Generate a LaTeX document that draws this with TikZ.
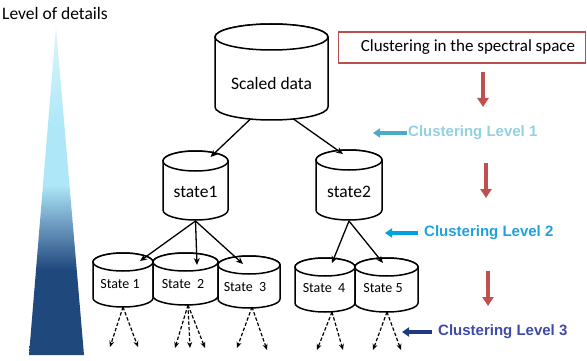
\documentclass[tikz,border=0pt]{standalone}
\usepackage{fontspec}
\setmainfont{Carlito}
\newfontfamily\arialfont{Liberation Sans}
\usetikzlibrary{arrows.meta,calc}
\definecolor{navyb}{HTML}{1F497D}
\definecolor{midb}{HTML}{6F9CC2}
\definecolor{cyanb}{HTML}{AEE8F8}
\definecolor{cyanl}{HTML}{DDF5FB}
\definecolor{boxred}{HTML}{B9504E}
\definecolor{redarr}{HTML}{C0504D}
\definecolor{lvla}{HTML}{92D0E2}
\definecolor{lvlaarr}{HTML}{4BACC6}
\definecolor{lvlb}{HTML}{1FA2DC}
\definecolor{lvlbarr}{HTML}{00A3E0}
\definecolor{lvlc}{HTML}{3D4BA8}
\definecolor{lvlcarr}{HTML}{1F3C80}
\pgfdeclareverticalshading{lodshade}{100bp}{color(0bp)=(navyb); color(38bp)=(navyb); color(45bp)=(midb); color(51bp)=(cyanb); color(60bp)=(cyanb); color(75bp)=(cyanl); color(100bp)=(cyanl)}
\newcommand\drawcyl[5]{%
  \filldraw[cylline] ({#1-#4},#2) -- ({#1-#4},#3) arc[start angle=180,end angle=0,x radius=#4,y radius=#5] -- ({#1+#4},#2) arc[start angle=0,end angle=-180,x radius=#4,y radius=#5] -- cycle;
  \draw[cylline] (#1,#2) ellipse[x radius=#4,y radius=#5];
}
\tikzset{
  cylline/.style={draw=black, line width=1.5pt, fill=white},
  bigtxt/.style={font=\fontsize{17.5}{20}\selectfont, inner sep=1pt},
  smalltxt/.style={font=\fontsize{14}{16}\selectfont, inner sep=1pt},
  lvltxt/.style={font=\arialfont\bfseries\fontsize{15}{17}\selectfont, inner sep=1pt, anchor=west},
  solidarr/.style={line width=1.3pt, -{Stealth[length=7pt,width=6pt]}},
  dasharr/.style={line width=1.2pt, dash pattern=on 3.5pt off 2pt, -{Stealth[length=6pt,width=5pt]}},
  redarrow/.style={draw=redarr, line width=3.5pt, -{Triangle[length=9pt,width=11pt]}},
  lvlarrow/.style={line width=3.5pt, -{Triangle[length=7pt,width=9pt]}},
}
\begin{document}
\begin{tikzpicture}[x=1pt,y=-1pt]
\useasboundingbox (0,0) rectangle (587,361);
% level of details
\node[bigtxt] (lod) at (55,13) {Level of details};
\shade[shading=lodshade] (56,27) -- (84,355) -- (29,355) -- cycle;
% cylinders
\drawcyl{271.5}{37}{107}{56.5}{13}
\node[bigtxt] (sd) at (271.5,83) {Scaled data};
\drawcyl{195.5}{161}{210}{32.5}{10}
\node[bigtxt] (st1) at (195.5,192) {state1};
\drawcyl{349}{160}{210}{33}{10}
\node[bigtxt] (st2) at (349,192) {state2};
\drawcyl{123}{262}{298}{30}{9}
\node[smalltxt] (s1) at (120,284) {State 1};
\drawcyl{185.5}{262}{296}{32.5}{9}
\node[smalltxt] (s2) at (183,284) {State\ \ 2};
\drawcyl{249}{265}{299}{31}{9}
\node[smalltxt] (s3) at (245,287) {State\ \ 3};
\drawcyl{325}{267}{303}{30}{9}
\node[smalltxt] (s4) at (324,288) {State\ \ 4};
\drawcyl{386.5}{267}{303}{31.5}{9}
\node[smalltxt] (s5) at (383,288) {State 5};
% solid connectors
\draw[solidarr] ($(sd)+(-21,36)$) -- ($(st1)+(15,-35)$);
\draw[solidarr] ($(sd)+(22,36)$) -- ($(st2)+(-6,-38)$);
\draw[solidarr] ($(st1)+(0,29)$) -- ($(s1)+(20,-23)$);
\draw[solidarr] ($(st1)+(0,29)$) -- ($(s2)+(14,-19)$);
\draw[solidarr] ($(st1)+(0,29)$) -- ($(s3)+(-2,-23)$);
\draw[solidarr] ($(st2)+(0,29)$) -- ($(s4)+(8,-25)$);
\draw[solidarr] ($(st2)+(0,29)$) -- ($(s5)+(0,-25)$);
% dashed connectors
\draw[dasharr] ($(s1)+(3,23)$) -- ($(s1)+(-10,63)$);
\draw[dasharr] ($(s1)+(3,23)$) -- ($(s1)+(18,63)$);
\draw[dasharr] ($(s2)+(5,21)$) -- ($(s2)+(-8,64)$);
\draw[dasharr] ($(s2)+(5,21)$) -- ($(s2)+(7,64)$);
\draw[dasharr] ($(s2)+(5,21)$) -- ($(s2)+(22,64)$);
\draw[dasharr] ($(s3)+(7,20)$) -- ($(s3)+(-8,61)$);
\draw[dasharr] ($(s3)+(7,20)$) -- ($(s3)+(22,63)$);
\draw[dasharr] ($(s4)+(8,24)$) -- ($(s4)+(-7,62)$);
\draw[dasharr] ($(s4)+(8,24)$) -- ($(s4)+(19,62)$);
\draw[dasharr] ($(s5)+(4,24)$) -- ($(s5)+(-10,62)$);
\draw[dasharr] ($(s5)+(4,24)$) -- ($(s5)+(18,62)$);
% right side
\node[draw=boxred, line width=1.1pt, minimum width=247pt, minimum height=31pt, inner sep=0pt, font=\fontsize{17}{20}\selectfont] (box) at (462,47.5) {\hspace{12pt}Clustering in the spectral space};
\coordinate (r1a) at (483,72); \coordinate (r1b) at (483,107);
\coordinate (r2a) at (486,163); \coordinate (r2b) at (486,198);
\coordinate (r3a) at (488,271); \coordinate (r3b) at (488,306);
\draw[redarrow] (r1a) -- (r1b);
\draw[redarrow] (r2a) -- (r2b);
\draw[redarrow] (r3a) -- (r3b);
\node[lvltxt, text=lvla] (l1) at (407,133) {Clustering Level 1};
\node[lvltxt, text=lvlb] (l2) at (423,233) {Clustering Level 2};
\node[lvltxt, text=lvlc] (l3) at (437,332) {Clustering Level 3};
\coordinate (l1tip) at (373,133);
\coordinate (l2tip) at (385,233);
\coordinate (l3tip) at (402,332);
\draw[lvlarrow, draw=lvlaarr, fill=lvlaarr] (l1.west) -- (l1tip);
\draw[lvlarrow, draw=lvlbarr, fill=lvlbarr] ($(l2.west)+(-5,0)$) -- (l2tip);
\draw[lvlarrow, draw=lvlcarr, fill=lvlcarr] ($(l3.west)+(-5,0)$) -- (l3tip);
\end{tikzpicture}
\end{document}
